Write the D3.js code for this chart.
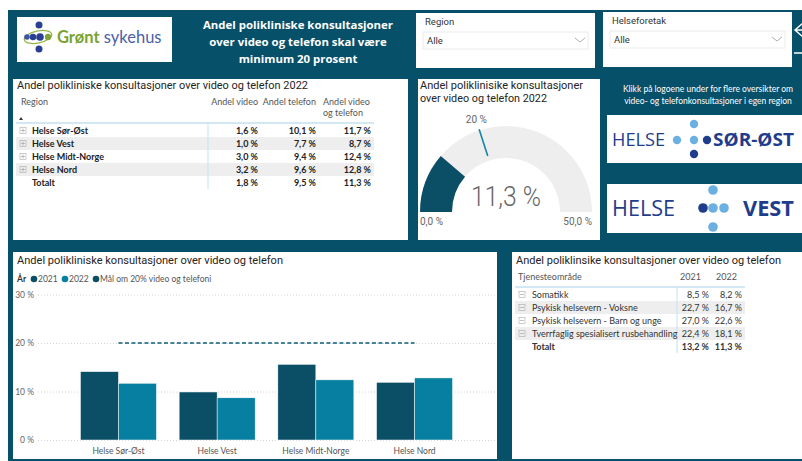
<!DOCTYPE html>
<html>
<head>
<meta charset="utf-8">
<script src="https://cdn.jsdelivr.net/npm/d3@7"></script>
<style>
  html, body { margin: 0; padding: 0; background: #fff; }
  svg { display: block; font-family: "Lato", "Open Sans", sans-serif; }
  .din { font-family: "Roboto", "Lato", sans-serif; }
</style>
</head>
<body>
<svg id="dash" width="802" height="461"></svg>
<script>
// data
const regions = ["Helse Sør-Øst", "Helse Vest", "Helse Midt-Norge", "Helse Nord"];
const andelVideo = [1.6, 1.0, 3.0, 3.2];
const andelTelefon = [10.1, 7.7, 9.4, 9.6];
const andelBegge = [11.7, 8.7, 12.4, 12.8];
const totaltRegion = [1.8, 9.5, 11.3];

const years = ["2021", "2022"];
const bar2021 = [14.1, 9.9, 15.6, 11.9];
const bar2022 = [11.7, 8.7, 12.4, 12.8];
const maal = 20;
const yTicks = [0, 10, 20, 30];

const gaugeValue = 11.3;
const gaugeMin = 0;
const gaugeMax = 50;
const gaugeTarget = 20;

const tjenester = ["Somatikk", "Psykisk helsevern - Voksne", "Psykisk helsevern - Barn og unge", "Tverrfaglig spesialisert rusbehandling"];
const tj2021 = [8.5, 22.7, 27.0, 22.4];
const tj2022 = [8.2, 16.7, 22.6, 18.1];
const tjTotalt = [13.2, 11.3];

const teal = "#06506a";
const c2021 = "#0a4f66";
const c2022 = "#067fa1";
const rowGray = "#eeeeee";
const lineBlue = "#c5e1f2";

const no = d3.formatLocale({ decimal: ",", thousands: " ", grouping: [3], currency: ["", " kr"] });
const pct = (v) => no.format(".1f")(v) + " %";

const svg = d3.select("#dash");

// background
svg.append("rect").attr("x", 8).attr("y", 10).attr("width", 794).attr("height", 451).attr("fill", teal);

function panel(x, y, w, h) {
  return svg.append("rect").attr("x", x).attr("y", y).attr("width", w).attr("height", h).attr("fill", "#fff");
}

// visual title, squeezed to the width it has in the report
function visualTitle(x, y, text, len) {
  return svg.append("text").attr("x", x).attr("y", y).attr("font-size", 11.5).attr("fill", "#252423")
    .attr("class", "din").attr("textLength", len).attr("lengthAdjust", "spacingAndGlyphs").text(text);
}

// ---------- header ----------
panel(17, 17, 155, 45);
const logo = svg.append("g");
logo.append("ellipse").attr("cx", 38).attr("cy", 37).attr("rx", 14).attr("ry", 6)
  .attr("transform", "rotate(-12 38 37)").attr("fill", "none").attr("stroke", "#93b84a").attr("stroke-width", 1.3);
[[39, 25, 3.5, "#2b3f92"], [27, 37, 2.8, "#3d55a6"], [33, 37, 3.2, "#2b3f92"], [40, 37, 3.8, "#2b3f92"],
 [48, 37, 3.2, "#7ea437"], [39, 49, 3.5, "#2b3f92"]].forEach(([cx, cy, r, f]) => {
  logo.append("circle").attr("cx", cx).attr("cy", cy).attr("r", r).attr("fill", f);
});
const logoText = logo.append("text").attr("x", 57).attr("y", 43).attr("font-size", 16.5)
  .attr("font-family", "Lato, sans-serif");
logoText.append("tspan").attr("fill", "#7aa22f").attr("font-weight", 700).text("Grønt");
logoText.append("tspan").attr("fill", "#4b60a8").text(" sykehus");

const titleLines = ["Andel polikliniske konsultasjoner", "over video og telefon skal være", "minimum 20 prosent"];
svg.append("g").selectAll("text").data(titleLines).join("text")
  .attr("x", 298).attr("y", (d, i) => 29 + i * 17)
  .attr("text-anchor", "middle").attr("fill", "#fff").attr("font-weight", 700).attr("font-size", 11.4)
  .attr("font-family", "Open Sans, sans-serif")
  .text((d) => d);

// slicers
function slicer(x, y, w, label) {
  panel(x, y, w, 55);
  svg.append("text").attr("x", x + 9).attr("y", y + 12).attr("font-size", 9.5).attr("fill", "#333")
    .attr("class", "din").text(label);
  svg.append("rect").attr("x", x + 7).attr("y", y + 19).attr("width", w - 14).attr("height", 17)
    .attr("fill", "#fff").attr("stroke", "#ececec");
  svg.append("text").attr("x", x + 11).attr("y", y + 31).attr("font-size", 9.5).attr("fill", "#333")
    .attr("class", "din").text("Alle");
  const cx = x + w - 15, cy = y + 27;
  svg.append("path").attr("d", `M${cx - 5},${cy - 2}L${cx},${cy + 2}L${cx + 5},${cy - 2}`)
    .attr("fill", "none").attr("stroke", "#999").attr("stroke-width", 0.8);
}
slicer(416, 13, 179, "Region");
slicer(603, 12, 189, "Helseforetak");

// back arrow (cut at the edge)
svg.append("path").attr("d", "M803,23L795,30L803,37M795,30L803,30")
  .attr("fill", "none").attr("stroke", "#fff").attr("stroke-width", 1.5);
svg.append("line").attr("x1", 794).attr("x2", 802).attr("y1", 53).attr("y2", 53)
  .attr("stroke", "#fff").attr("stroke-width", 1.5);

// ---------- table 2022 ----------
panel(13, 79, 395, 161);
visualTitle(17, 89, "Andel polikliniske konsultasjoner over video og telefon 2022", 291);

const t1 = svg.append("g").attr("font-size", 9);
t1.append("text").attr("x", 21).attr("y", 105).attr("fill", "#555").text("Region");
t1.append("path").attr("d", "M19,120L21,117L23,120Z").attr("fill", "#333");
t1.append("text").attr("x", 258).attr("y", 105).attr("text-anchor", "end").attr("fill", "#555").text("Andel video");
t1.append("text").attr("x", 316).attr("y", 105).attr("text-anchor", "end").attr("fill", "#555").text("Andel telefon");
t1.append("text").attr("x", 323).attr("y", 105).attr("fill", "#555").text("Andel video");
t1.append("text").attr("x", 323).attr("y", 116).attr("fill", "#555").text("og telefon");

const r1 = d3.scaleBand().domain(d3.range(regions.length + 1)).range([124, 189]);
t1.selectAll("rect.bg").data(regions).join("rect").attr("class", "bg")
  .attr("x", 16).attr("y", (d, i) => r1(i)).attr("width", 358).attr("height", r1.bandwidth())
  .attr("fill", (d, i) => (i % 2 ? rowGray : "none"));
t1.append("line").attr("x1", 16).attr("x2", 374).attr("y1", 123).attr("y2", 123).attr("stroke", lineBlue).attr("stroke-width", 1.5);
t1.append("line").attr("x1", 208).attr("x2", 208).attr("y1", 123).attr("y2", 189).attr("stroke", lineBlue);

function plusBox(g, x, y, minus) {
  g.append("rect").attr("x", x - 3).attr("y", y - 3).attr("width", 6).attr("height", 6)
    .attr("fill", "none").attr("stroke", "#aaa").attr("stroke-width", 0.6);
  g.append("line").attr("x1", x - 2).attr("x2", x + 2).attr("y1", y).attr("y2", y).attr("stroke", "#999").attr("stroke-width", 0.6);
  if (!minus) g.append("line").attr("x1", x).attr("x2", x).attr("y1", y - 2).attr("y2", y + 2).attr("stroke", "#999").attr("stroke-width", 0.6);
}

const t1Rows = regions.map((r, i) => [r, andelVideo[i], andelTelefon[i], andelBegge[i]]);
t1Rows.push(["Totalt", ...totaltRegion]);
t1Rows.forEach((row, i) => {
  const y = r1(i) + r1.bandwidth() / 2 + 3.5;
  if (i < regions.length) plusBox(t1, 23, y - 3.5, false);
  t1.append("text").attr("x", 32).attr("y", y).attr("font-weight", 700).attr("fill", "#222").text(row[0]);
  [258, 316, 371].forEach((x, j) => {
    t1.append("text").attr("x", x).attr("y", y).attr("text-anchor", "end").attr("font-weight", 700)
      .attr("fill", "#222").text(pct(row[j + 1]));
  });
});

// ---------- gauge ----------
panel(418, 79, 182, 161);
visualTitle(420, 89, "Andel poliklinisike konsultasjoner", 163);
visualTitle(420, 101.5, "over video og telefon 2022", 127);

const gx = 506, gy = 212, rOut = 86, rIn = 54;
const ang = d3.scaleLinear().domain([gaugeMin, gaugeMax]).range([-Math.PI / 2, Math.PI / 2]);
const arc = d3.arc().innerRadius(rIn).outerRadius(rOut);
const gg = svg.append("g").attr("transform", `translate(${gx},${gy})`);
gg.append("path").attr("d", arc({ startAngle: ang(gaugeMin), endAngle: ang(gaugeMax) })).attr("fill", "#eeeeee");
gg.append("path").attr("d", arc({ startAngle: ang(gaugeMin), endAngle: ang(gaugeValue) })).attr("fill", c2021);
const ta = ang(gaugeTarget);
gg.append("line")
  .attr("x1", Math.sin(ta) * (rIn + 5)).attr("y1", -Math.cos(ta) * (rIn + 5))
  .attr("x2", Math.sin(ta) * (rOut + 1)).attr("y2", -Math.cos(ta) * (rOut + 1))
  .attr("stroke", "#1486a8").attr("stroke-width", 1.6);
gg.append("text").attr("x", Math.sin(ta) * (rOut + 10)).attr("y", -Math.cos(ta) * (rOut + 10) + 2)
  .attr("text-anchor", "middle").attr("font-size", 10).attr("fill", "#666").attr("class", "din").text(no.format(".0f")(gaugeTarget) + " %");
gg.append("text").attr("x", 0).attr("y", -6).attr("text-anchor", "middle").attr("font-size", 28)
  .attr("font-weight", 300).attr("fill", "#666").attr("class", "din")
  .attr("textLength", 70).attr("lengthAdjust", "spacingAndGlyphs").text(pct(gaugeValue));
gg.append("text").attr("x", -rOut).attr("y", 13).attr("font-size", 10).attr("fill", "#666").attr("class", "din").text(pct(gaugeMin));
gg.append("text").attr("x", rOut).attr("y", 13).attr("text-anchor", "end").attr("font-size", 10).attr("fill", "#666").attr("class", "din").text(pct(gaugeMax));

// ---------- right side: text + region logos ----------
svg.append("g").attr("font-size", 8.5).attr("fill", "#fff")
  .selectAll("text").data(["Klikk på logoene under for flere oversikter om", "video- og telefonkonsultasjoner i egen region"]).join("text")
  .attr("x", 708).attr("y", (d, i) => 92 + i * 11.5).attr("text-anchor", "middle").text((d) => d);

panel(607, 115, 200, 48);
panel(607, 184, 200, 49);
const navy = "#1f3d8c", sky = "#6cb0e2";
function regionLogo(y, dots, word, wx, hx1, wx1, fs, r) {
  svg.append("text").attr("x", 612).attr("y", y + fs * 0.36).attr("font-size", fs).attr("fill", navy)
    .attr("font-family", "Open Sans, sans-serif").attr("textLength", hx1 - 612).attr("lengthAdjust", "spacingAndGlyphs").text("HELSE");
  dots.forEach(([cx, oy, f]) => {
    svg.append("circle").attr("cx", cx).attr("cy", y + oy).attr("r", r).attr("fill", f);
  });
  svg.append("text").attr("x", wx).attr("y", y + fs * 0.36).attr("font-size", fs).attr("font-weight", 700)
    .attr("fill", navy).attr("font-family", "Open Sans, sans-serif")
    .attr("textLength", wx1 - wx).attr("lengthAdjust", "spacingAndGlyphs").text(word);
}
regionLogo(140, [[694, -16, sky], [677, 0, sky], [694, 0, sky], [707, 0, navy], [694, 14, navy]], "SØR-ØST", 713, 665, 794, 18, 4.2);
regionLogo(208, [[713, -18, sky], [703, 0, navy], [713, 0, sky], [724, 0, sky], [713, 19, sky]], "VEST", 743, 675, 794, 21, 4.8);

// ---------- bar chart ----------
panel(13, 252, 484, 207);
visualTitle(17, 264, "Andel polikliniske konsultasjoner over video og telefon", 266);

const leg = svg.append("g").attr("font-size", 8.5).attr("fill", "#555");
leg.append("text").attr("x", 17).attr("y", 282).attr("font-weight", 700).attr("fill", "#333").text("År");
[["2021", c2021, 34], ["2022", c2022, 65], ["Mål om 20% video og telefoni", c2021, 96]].forEach(([t, c, x]) => {
  leg.append("circle").attr("cx", x).attr("cy", 279).attr("r", 3.3).attr("fill", c);
  leg.append("text").attr("x", x + 4).attr("y", 282).text(t);
});

const x0 = d3.scaleBand().domain(regions).range([38, 495]).paddingInner(0.23).paddingOuter(0.43);
const x1 = d3.scaleBand().domain(years).range([0, x0.bandwidth()]);
const y = d3.scaleLinear().domain([0, 30]).range([440, 294.5]);

const yAxis = svg.append("g").attr("transform", "translate(38,0)")
  .call(d3.axisLeft(y).tickValues(yTicks).tickSize(-457).tickFormat((d) => d + " %"));
yAxis.select(".domain").remove();
yAxis.selectAll(".tick line").attr("stroke", "#d4d4d4").attr("stroke-dasharray", "1,2");
yAxis.selectAll(".tick text").attr("x", -4).attr("fill", "#666").attr("font-size", 8.5).attr("font-family", "Lato, sans-serif");

const barData = regions.map((r, i) => ({ region: r, values: [{ year: "2021", v: bar2021[i] }, { year: "2022", v: bar2022[i] }] }));
svg.append("g").selectAll("g").data(barData).join("g")
  .attr("transform", (d) => `translate(${x0(d.region)},0)`)
  .selectAll("rect").data((d) => d.values).join("rect")
  .attr("x", (d) => x1(d.year)).attr("width", x1.bandwidth())
  .attr("y", (d) => y(d.v)).attr("height", (d) => y(0) - y(d.v))
  .attr("fill", (d) => (d.year === "2021" ? c2021 : c2022))
  .attr("stroke", "#fff").attr("stroke-width", 0.5);

// target line over the group centres
svg.append("line")
  .attr("x1", x0(regions[0]) + x0.bandwidth() / 2).attr("x2", x0(regions[regions.length - 1]) + x0.bandwidth() / 2)
  .attr("y1", y(maal)).attr("y2", y(maal))
  .attr("stroke", "#0e5d78").attr("stroke-width", 1.4).attr("stroke-dasharray", "4,2.5");

const xAxis = svg.append("g").attr("transform", "translate(0,440)").call(d3.axisBottom(x0).tickSize(0));
xAxis.select(".domain").remove();
xAxis.selectAll(".tick text").attr("y", 8).attr("fill", "#555").attr("font-size", 8.5).attr("font-family", "Lato, sans-serif");

// ---------- tjenesteområde table ----------
panel(512, 252, 295, 207);
visualTitle(516, 264, "Andel poliklinsike konsultasjoner over video og telefon", 265);

const t2 = svg.append("g").attr("font-size", 9);
t2.append("text").attr("x", 518).attr("y", 280).attr("fill", "#555").text("Tjenesteområde");
t2.append("text").attr("x", 680).attr("y", 280).attr("fill", "#555").text(years[0]);
t2.append("text").attr("x", 716).attr("y", 280).attr("fill", "#555").text(years[1]);

const r2 = d3.scaleBand().domain(d3.range(tjenester.length + 1)).range([288, 353]);
t2.selectAll("rect.bg").data(tjenester).join("rect").attr("class", "bg")
  .attr("x", 515).attr("y", (d, i) => r2(i)).attr("width", 230).attr("height", r2.bandwidth())
  .attr("fill", (d, i) => (i % 2 ? rowGray : "none"));
t2.append("line").attr("x1", 515).attr("x2", 745).attr("y1", 287).attr("y2", 287).attr("stroke", lineBlue).attr("stroke-width", 1.5);
t2.append("line").attr("x1", 677).attr("x2", 677).attr("y1", 287).attr("y2", 353).attr("stroke", lineBlue);

const t2Rows = tjenester.map((t, i) => [t, tj2021[i], tj2022[i]]);
t2Rows.push(["Totalt", ...tjTotalt]);
t2Rows.forEach((row, i) => {
  const yy = r2(i) + r2.bandwidth() / 2 + 3.5;
  const bold = i === tjenester.length;
  if (!bold) plusBox(t2, 522, yy - 3.5, true);
  t2.append("text").attr("x", 532).attr("y", yy).attr("fill", "#333").attr("font-weight", bold ? 700 : 400).text(row[0]);
  [709, 742].forEach((x, j) => {
    t2.append("text").attr("x", x).attr("y", yy).attr("text-anchor", "end").attr("fill", "#333")
      .attr("font-weight", bold ? 700 : 400).text(pct(row[j + 1]));
  });
});
</script>
</body>
</html>
